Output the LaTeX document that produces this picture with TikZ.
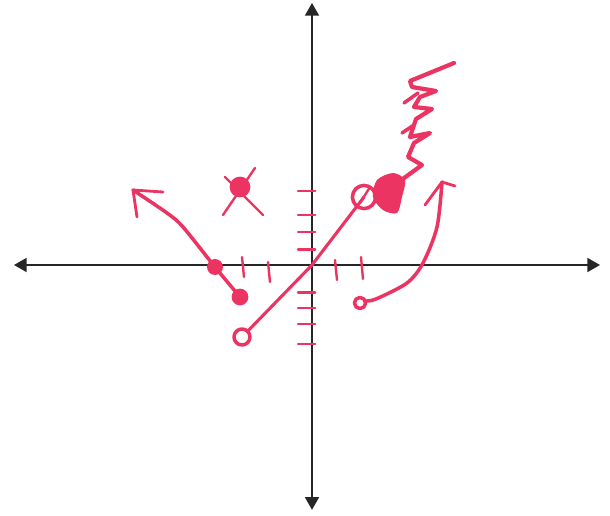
\documentclass[tikz,border=0pt]{standalone}
\usepackage{tikz}
\usetikzlibrary{arrows.meta}
\definecolor{pen}{RGB}{236,52,98}

\begin{document}
\begin{tikzpicture}[>={Triangle[length=9pt,width=10pt]},
  ink/.style={pen,line width=2.5pt,line cap=round,line join=round},
  thin ink/.style={pen,line width=1.7pt,line cap=round},
  axis/.style={<->,black!85,line width=1.1pt}]
  \useasboundingbox (-7.8,-6.25) rectangle (7.45,6.625);
  % axes
  \draw[axis] (-7.45,0)--(7.2,0);
  \draw[axis] (0,-6.12)--(0,6.55);
  % tick marks
  \foreach \y in {1.85,1.25,0.83,0.39,-0.69,-1.08,-1.475,-1.975} {
    \draw[thin ink] (-0.35,\y) -- (0.08,\y);
  }
  \foreach \x/\a/\b in {-1.75/0.2/-0.3,-1.1/0.075/-0.425,0.575/0.125/-0.375,1.225/0.2/-0.35} {
    \draw[thin ink] (\x,\a) -- (\x+0.05,\b);
  }
  % crossed out point
  \coordinate (cross) at (-1.8,1.95);
  \fill[pen] (cross) circle (0.26);
  \draw[thin ink] (-2.175,2.2) -- (-1.225,1.25);
  \draw[thin ink] (-1.425,2.425) -- (-2.225,1.25);
  % left ray
  \coordinate (dotA) at (-1.8,-0.8);
  \coordinate (dotB) at (-2.425,-0.05);
  \coordinate (ltip) at (-4.475,1.875);
  \draw[ink] plot[smooth] coordinates {(dotA) (dotB) (-3.225,0.95) (-3.625,1.3) (ltip)};
  \draw[ink,line width=2pt] (-3.725,1.825) -- (ltip) -- (-4.375,1.2);
  \fill[pen] (dotA) circle (0.21);
  \fill[pen] (dotB) circle (0.2);
  % line through origin
  \coordinate (openA) at (-1.75,-1.8);
  \coordinate (openB) at (1.3,1.7);
  \draw[ink,line width=2.2pt] (openA) -- (0,0) -- (openB);
  \draw[ink,fill=white] (openA) circle (0.2);
  \draw[ink] (openB) circle (0.29);
  \draw[thin ink] (1.2,1.55) -- (1.45,1.95);
  % scribble going up
  \fill[pen] plot[smooth cycle] coordinates {(1.625,2.125) (2.025,2.3) (2.325,2.125)
    (2.25,1.7) (2.125,1.3) (1.775,1.375) (1.525,1.7)};
  \draw[ink,line width=3pt] (2.2,2.1) -- (2.75,2.5) -- (2.4,2.7) -- (2.55,3.05)
    -- (2.95,3.3) -- (2.45,3.2) -- (2.6,3.65) -- (3.0,3.9) -- (2.55,3.95)
    -- (2.7,4.2) -- (3.1,4.35) -- (2.5,4.45) -- (2.45,4.6) -- (3.55,5.05);
  \draw[ink] (2.3,4.05) -- (2.65,4.3);
  \draw[ink] (2.25,3.3) -- (2.55,3.5);
  % curved arrow
  \coordinate (openC) at (1.2,-0.95);
  \coordinate (rtip) at (3.25,2.075);
  \draw[ink] plot[smooth] coordinates {(1.33,-0.9) (1.6,-0.85) (2.375,-0.45) (2.775,0.05) (3.125,0.95) (rtip)};
  \draw[ink,line width=2pt] (2.825,1.5) -- (rtip) -- (3.575,1.975);
  \draw[ink,fill=white] (openC) circle (0.14);
\end{tikzpicture}
\end{document}
